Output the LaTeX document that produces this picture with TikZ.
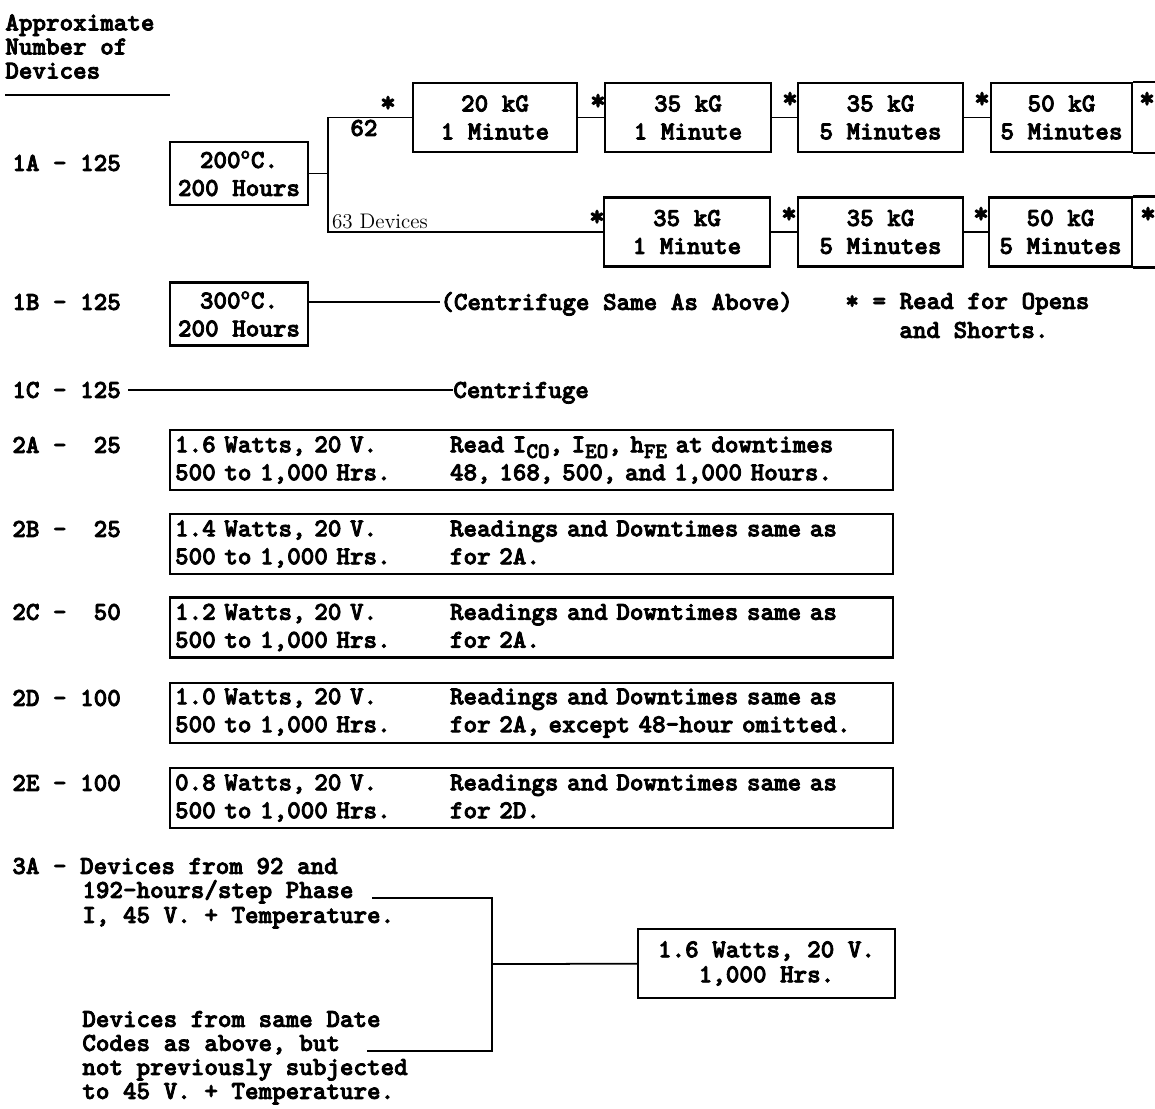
\documentclass[tikz,border=0pt]{standalone}
\usepackage{fontspec}
\newfontfamily\twfont{lmmonolt10-bold.otf}[FakeBold=3]
\usepackage{tikz}
\usetikzlibrary{positioning}

\tikzset{
  tw/.style={font=\twfont\fontsize{14.7}{15.9}\selectfont, inner sep=0pt},
  lbl/.style={tw, anchor=west, text height=9pt, text depth=0pt},
  star/.style={tw, font=\twfont\fontsize{17}{17}\selectfont},
  kbox/.style={draw, line width=1.3pt, tw, align=center, minimum height=1.38cm},
  tbox/.style={draw, line width=1.3pt, tw, align=center, minimum width=2.76cm, minimum height=1.26cm},
  wbox/.style={draw, line width=1.3pt, tw, align=left, text width=14.26cm, inner xsep=0.1cm, minimum height=1.2cm},
  wire/.style={line width=1pt}
}
\newcommand{\colA}[1]{\makebox[5.5cm][l]{#1}}
\newcommand{\lowsub}[1]{\raisebox{-0.22em}{\fontsize{12.5}{12.5}\selectfont #1}}

\begin{document}
\begin{tikzpicture}[x=0.02cm, y=-0.02cm]
  \useasboundingbox (0,0) rectangle (1155,1108);

  % header
  \node[tw, align=left, anchor=north west, font=\twfont\fontsize{14.7}{13.7}\selectfont] (hdr) at (5,14)
    {Approximate\\Number of\\Devices};
  \draw[line width=1.2pt] (5,95) -- (170,95);

  % 1A
  \node[lbl] (l1a) at (12,163) {1A - 125};
  \node[tbox] (ha) at (239,173.5) {200\textsuperscript{o}C.\\200 Hours};
  \coordinate (sp) at (328,173.5);
  \node[kbox, minimum width=3.28cm] (b1) at (495,117.5) {20 kG\\1 Minute};
  \node[kbox, minimum width=3.32cm] (b2) at (688,117.5) {35 kG\\1 Minute};
  \node[kbox, minimum width=3.30cm] (b3) at (880.5,117.5) {35 kG\\5 Minutes};
  \node[kbox, minimum width=2.82cm] (b4) at (1061.5,117.5) {50 kG\\5 Minutes};
  \node[kbox, minimum width=3.32cm] (c1) at (687,232) {35 kG\\1 Minute};
  \node[kbox, minimum width=3.30cm] (c2) at (880.5,232) {35 kG\\5 Minutes};
  \node[kbox, minimum width=2.86cm] (c3) at (1060.5,232) {50 kG\\5 Minutes};
  \coordinate (rim) at (1160,0);
  \draw[line width=1.3pt] (b4.north east) -- (b4.north east -| rim);
  \draw[line width=1.3pt] (b4.south east) -- (b4.south east -| rim);
  \draw[line width=1.3pt] (c3.north east) -- (c3.north east -| rim);
  \draw[line width=1.3pt] (c3.south east) -- (c3.south east -| rim);

  \draw[wire] (ha) -- (sp);
  \draw[wire] (b1) -| (sp);
  \draw[wire] (c1) -| (sp);
  \draw[wire] (b1) -- (b2);
  \draw[wire] (b2) -- (b3);
  \draw[wire] (b3) -- (b4);
  \draw[wire] (c1) -- (c2);
  \draw[wire] (c2) -- (c3);

  \node[star] (s1) at (388,104) {*};
  \node[star] (s2) at (598,102) {*};
  \node[star] (s3) at (790,100) {*};
  \node[star] (s4) at (982,100) {*};
  \node[star] (s5) at (1147,100) {*};
  \node[star] (s6) at (597,218) {*};
  \node[star] (s7) at (789,215) {*};
  \node[star] (s8) at (981,215) {*};
  \node[star] (s9) at (1148,215) {*};
  \node[lbl] (n62) at (350,128) {62};
  \node[anchor=south west, inner sep=1pt, font=\fontsize{12}{12}\selectfont] (n63) at (330,231) {63 Devices};

  % 1B
  \node[lbl] (l1b) at (12,302) {1B - 125};
  \node[tbox] (hb) at (239,314) {300\textsuperscript{o}C.\\200 Hours};
  \node[lbl] (cfa) at (440,302) {(Centrifuge Same As Above)};
  \draw[wire] (hb.east |- cfa.west) -- (cfa.west);
  \node[lbl] (key) at (845,301) {* = Read for Opens};
  \node[lbl] (key2) at (899,330) {and Shorts.};

  % 1C
  \node[lbl] (l1c) at (12,390) {1C - 125};
  \node[lbl] (cfb) at (453,390) {Centrifuge};
  \draw[wire] ([xshift=4pt]l1c.east) -- (cfb.west);

  % 2A - 2E
  \node[lbl] (l2a) at (12,445) {2A -\ \ 25};
  \node[wbox] (p2a) at (531.5,460)
    {\colA{1.6 Watts, 20 V.}Read I\lowsub{CO}, I\lowsub{EO}, h\lowsub{FE} at downtimes\\
     \colA{500 to 1,000 Hrs.}48, 168, 500, and 1,000 Hours.};
  \node[lbl] (l2b) at (12,529) {2B -\ \ 25};
  \node[wbox] (p2b) at (531.5,544)
    {\colA{1.4 Watts, 20 V.}Readings and Downtimes same as\\
     \colA{500 to 1,000 Hrs.}for 2A.};
  \node[lbl] (l2c) at (12,612) {2C -\ \ 50};
  \node[wbox] (p2c) at (531.5,627.5)
    {\colA{1.2 Watts, 20 V.}Readings and Downtimes same as\\
     \colA{500 to 1,000 Hrs.}for 2A.};
  \node[lbl] (l2d) at (12,698) {2D - 100};
  \node[wbox] (p2d) at (531.5,713)
    {\colA{1.0 Watts, 20 V.}Readings and Downtimes same as\\
     \colA{500 to 1,000 Hrs.}for 2A, except 48-hour omitted.};
  \node[lbl] (l2e) at (12,783) {2E - 100};
  \node[wbox] (p2e) at (531.5,798)
    {\colA{0.8 Watts, 20 V.}Readings and Downtimes same as\\
     \colA{500 to 1,000 Hrs.}for 2D.};

  % 3A
  \node[lbl] (t3a) at (12,866) {3A - Devices from 92 and};
  \node[lbl] (t3b) at (82,890) {192-hours/step Phase};
  \node[lbl] (t3c) at (82,915) {I, 45 V. + Temperature.};
  \node[lbl] (t3d) at (82,1019) {Devices from same Date};
  \node[lbl] (t3e) at (82,1043) {Codes as above, but};
  \node[lbl] (t3f) at (82,1067) {not previously subjected};
  \node[lbl] (t3g) at (82,1091) {to 45 V. + Temperature.};
  \coordinate (a3) at (372,898);
  \coordinate (b3) at (367,1051);
  \coordinate (j3) at (492,964);
  \node[kbox, minimum width=5.14cm, font=\twfont\fontsize{14.7}{14.2}\selectfont] (p3a) at (766.5,963.5)
    {1.6 Watts, 20 V.\\1,000 Hrs.};
  \draw[wire] (a3) -| (j3);
  \draw[wire] (b3) -| (j3);
  \draw[wire] (j3) -- (p3a);
\end{tikzpicture}
\end{document}
